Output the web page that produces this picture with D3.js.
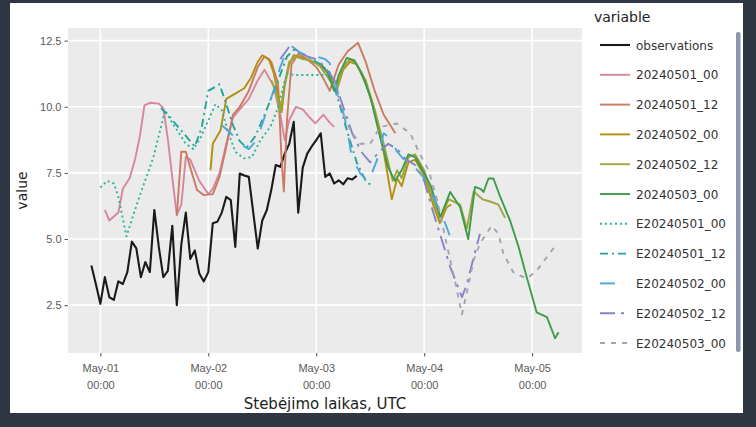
<!DOCTYPE html>
<html>
<head>
<meta charset="utf-8">
<script src="https://cdn.jsdelivr.net/npm/d3@7"></script>
<style>
  html, body { margin: 0; padding: 0; background: #2e3742; }
  svg { display: block; font-family: "DejaVu Sans", sans-serif; }
</style>
</head>
<body>
<div id="chart"></div>
<script>
// ---- data ----
const seriesNames = ["observations", "20240501_00", "20240501_12", "20240502_00", "20240502_12", "20240503_00",
    "E20240501_00", "E20240501_12", "E20240502_00", "E20240502_12", "E20240503_00"];

// hourly observations from 2024-04-30 22:00 UTC
const obsStart = "2024-04-30T22:00:00Z";
const obsValues = [4.0, 3.3, 2.55, 3.56, 2.8, 2.7, 3.4, 3.3, 3.75, 4.9, 4.65, 3.56, 4.13, 3.75, 6.1, 4.7,
    3.56, 3.8, 5.5, 2.5, 4.8, 6.0, 4.25, 4.57, 3.7, 3.4, 3.75, 5.6, 5.65, 6.0, 6.6, 6.47, 4.7, 7.48,
    7.4, 7.35, 6.0, 4.64, 5.7, 6.09, 6.85, 7.8, 7.73, 8.23, 8.6, 9.43, 6.0, 7.7, 8.23, 8.5, 8.74,
    9.0, 7.35, 7.48, 7.1, 7.22, 7.07, 7.3, 7.25, 7.39];

// forecasts: [hours after 2024-05-01 00:00 UTC, value]
const f20240501_00 = [[1,6.1],[2,5.7],[4,6.0],[5,6.9],[6.5,7.3],[7.7,8.0],[8.8,8.9],[9.8,10.05],[11,10.15],
    [13,10.12],[14,9.95],[15,8.8],[16,7.3],[17,5.9],[18,6.3],[19,8.1],[20,8.0],[22,7.2],[24,6.7],[25,6.9],
    [26.5,7.5],[28,8.6],[29.5,9.6],[31,9.9],[33,10.3],[35,11.0],[36.5,11.4],[38.5,10.8],[40,9.7],[41,8.74],
    [42,9.5],[43.5,10.0],[45,9.9],[46.5,9.6],[47.8,9.37],[49.6,9.7],[51,9.4],[52,9.24]];
const f20240501_12 = [[17,5.9],[18,8.3],[19,8.3],[20,7.7],[21.5,6.85],[23,6.66],[25,6.7],[26.5,7.35],[28,8.5],
    [29.5,9.7],[31,10.0],[33,10.6],[35,11.5],[36.5,11.9],[38,11.7],[39.5,10.9],[40.3,8.0],[40.8,6.8],[41.5,9.5],
    [42.5,11.6],[44,12.0],[46,11.8],[48,11.5],[49.5,11.1],[51,10.6],[53,11.6],[55,12.1],[57.3,12.42],[59,11.7],
    [61,10.6],[63,9.7],[65.6,9.0]];
const f20240502_00 = [[24.5,7.6],[25,8.6],[26.7,9.1],[28,10.3],[30,10.5],[32,10.7],[33.5,11.1],[35,11.7],[36,11.95],
    [37.5,11.8],[38.5,11.3],[39.5,10.5],[40.3,9.8],[41,10.8],[42,11.6],[43,11.95],[45,11.85],[47,11.7],[49,11.6],
    [51,11.2],[52.5,10.6],[54,11.4],[55.5,11.7],[57,11.6],[59,10.9],[61,9.8],[63,8.3],[64.8,6.5],[66,7.3],[67,7.0],
    [68.5,7.9],[70,8.0],[72,7.4],[74,6.3],[75.5,5.6],[77,6.2],[78,6.3]];
const f20240502_12 = [[38,11.0],[39,10.6],[40,9.8],[41,10.9],[42,11.7],[43.5,11.9],[45,11.8],[47,11.75],[49,11.5],
    [51,11.0],[52.5,10.7],[54,11.5],[55.5,11.8],[57,11.6],[59,11.0],[61,9.9],[63,8.6],[65,7.2],[66,7.6],[67,7.3],
    [68.5,8.1],[70,8.2],[72,7.6],[74,6.5],[75.5,5.8],[77.5,6.5],[80,6.3],[81.5,5.4],[83,6.8],[85,6.5],[87,6.4],
    [88.5,6.3],[90,5.8]];
const f20240503_00 = [[49,11.6],[50.5,11.3],[52,10.6],[53,11.2],[54.8,11.85],[56.5,11.75],[58,11.3],[60,10.4],
    [62,9.0],[64,7.7],[65.5,7.2],[67,7.6],[68.5,8.2],[70,8.1],[72,7.5],[73.5,7.0],[75.6,5.83],[77.8,6.78],[80,6.2],
    [81.8,5.0],[83.3,6.97],[84.5,6.9],[85.2,6.78],[86.3,7.29],[87.4,7.29],[88.9,6.6],[91.1,5.7],[93,4.7],[94.8,3.56],
    [97,2.23],[99.3,2.05],[101.1,1.25],[101.9,1.48]];
const e20240501_00 = [[0,6.95],[1.5,7.2],[3,7.1],[4,6.6],[5.8,5.1],[7.5,6.0],[9.2,6.85],[11.8,8.1],[13.3,9.12],
    [14.4,9.87],[15.6,9.5],[17.5,9.0],[19,8.6],[20.7,8.4],[22.2,8.8],[23.7,9.37],[25.6,10.1],[27,9.87],[28.5,9.0],
    [30,8.3],[31.9,8.05],[33.7,8.1],[35.6,8.74],[37.8,9.24],[39.3,9.87],[41.5,11.27],[43,11.2],[47.5,11.2],[51,11.2]];
const e20240501_12 = [[13.5,9.95],[15.5,9.6],[17.5,9.2],[19.5,8.8],[21,8.5],[22.5,9.2],[24,10.6],[26.5,10.85],
    [28,10.1],[29.5,9.3],[31,8.7],[32.5,8.45],[34.5,8.9],[37,9.9],[39.3,10.9],[41.5,11.9],[43,12.15],[45,12.0],
    [47,11.8],[49,11.6],[51,11.3],[53,10.2],[55,9.0],[57,7.9],[59,7.2],[60.5,7.0]];
const e20240502_00 = [[27,9.3],[29,9.0],[31,8.6],[33,8.4],[34.8,8.74],[36.5,9.6],[38.5,10.6],[40,11.5],[41.5,12.15],
    [42.5,12.3],[44,12.1],[46,11.9],[48,11.9],[50,11.8],[51,11.65],[53.3,10.25],[54.8,9.24],[55.9,8.1],[57.8,7.48],
    [59.6,7.16],[61.5,7.98],[63,9.0],[64.5,8.8],[66,8.3],[68,7.9],[70,7.7],[72,7.3],[74,6.6],[76,5.9],[77.8,5.08]];
const e20240502_12 = [[40,11.8],[42,12.27],[44,12.1],[46,11.9],[48,11.8],[50,11.5],[52,11.0],[54,10.0],[56,9.0],
    [58,8.3],[60,7.9],[62,8.3],[64,8.6],[66,8.4],[68,8.0],[70,7.8],[72,7.2],[73.5,6.3],[75.5,5.2],[77.8,3.94],
    [80.4,2.8],[81.5,3.3],[83,4.3],[84.4,5.2]];
const e20240503_00 = [[52,10.9],[54,9.76],[55.6,9.1],[57.8,8.6],[60,8.6],[62.2,9.24],[65.9,9.37],[68.9,9.0],
    [71,8.23],[73,7.6],[75,6.4],[77,4.8],[79,3.3],[80.4,2.15],[81.5,3.0],[83,4.2],[84.4,4.83],[87,5.5],[88.5,5.2],
    [89.6,4.45],[91.8,3.75],[94.8,3.5],[97,3.8],[100.7,4.64],[101.3,4.75]];

const dayTicks = ["2024-05-01", "2024-05-02", "2024-05-03", "2024-05-04", "2024-05-05"];
const yTicks = [2.5, 5.0, 7.5, 10.0, 12.5];

// ---- styles ----
const colors = ["#1a1a1a", "#d8869c", "#c97b63", "#b38f10", "#9ea53f", "#3f9a4b",
    "#2cb39f", "#1fa698", "#4ba9d8", "#8484c8", "#a4a4ae"];
const dashes = [null, null, null, null, null, null, "2,3", "8,4,2,4", "15,15", "15,6,3,6", "5,6"];

const W = 756, H = 427;
const panel = { left: 68, right: 582, top: 28, bottom: 353 };

const base = new Date(obsStart);
const day0 = new Date("2024-05-01T00:00:00Z");
const toDate = h => d3.utcMinute.offset(day0, Math.round(h * 60));

const series = [
    obsValues.map((v, i) => ({ t: d3.utcHour.offset(base, i), v })),
    ...[f20240501_00, f20240501_12, f20240502_00, f20240502_12, f20240503_00,
        e20240501_00, e20240501_12, e20240502_00, e20240502_12, e20240503_00]
        .map(arr => arr.map(([h, v]) => ({ t: toDate(h), v })))
];

const all = series.flat();
const tExt = d3.extent(all, d => d.t);
const vExt = d3.extent(all, d => d.v);
const tPad = (tExt[1] - tExt[0]) * 0.05;
const vPad = (vExt[1] - vExt[0]) * 0.05;

const x = d3.scaleUtc()
    .domain([new Date(+tExt[0] - tPad), new Date(+tExt[1] + tPad)])
    .range([panel.left, panel.right]);
const y = d3.scaleLinear()
    .domain([vExt[0] - vPad, vExt[1] + vPad])
    .range([panel.bottom, panel.top]);

const svg = d3.select("#chart").append("svg")
    .attr("width", W).attr("height", H);

// frame
svg.append("rect").attr("width", W).attr("height", H).attr("fill", "#2e3742");
svg.append("rect").attr("x", 10).attr("y", 3).attr("width", 733).attr("height", 410).attr("fill", "#ffffff");

// panel + grid
svg.append("rect")
    .attr("x", panel.left).attr("y", panel.top)
    .attr("width", panel.right - panel.left).attr("height", panel.bottom - panel.top)
    .attr("fill", "#ebebeb");

const grid = svg.append("g");
grid.selectAll(".gy").data(yTicks).enter().append("line")
    .attr("x1", panel.left).attr("x2", panel.right)
    .attr("y1", d => y(d)).attr("y2", d => y(d))
    .attr("stroke", "#fff").attr("stroke-width", 1.6);
grid.selectAll(".gx").data(dayTicks).enter().append("line")
    .attr("x1", d => x(new Date(d + "T00:00:00Z"))).attr("x2", d => x(new Date(d + "T00:00:00Z")))
    .attr("y1", panel.top).attr("y2", panel.bottom)
    .attr("stroke", "#fff").attr("stroke-width", 1.6);

// axes
const yAxis = svg.append("g")
    .attr("transform", `translate(${panel.left},0)`)
    .call(d3.axisLeft(y).tickValues(yTicks).tickFormat(d3.format(".1f")).tickSize(3.5).tickPadding(3));
yAxis.select(".domain").remove();
yAxis.selectAll("line").attr("stroke", "#555");
yAxis.selectAll("text").attr("fill", "#5a5a5a").style("font-size", "11px");

const xAxis = svg.append("g")
    .attr("transform", `translate(0,${panel.bottom})`)
    .call(d3.axisBottom(x).tickValues(dayTicks.map(d => new Date(d + "T00:00:00Z"))).tickSize(3.5).tickFormat(""));
xAxis.select(".domain").remove();
xAxis.selectAll("line").attr("stroke", "#555");
const fmtDay = d3.utcFormat("%b-%d"), fmtTime = d3.utcFormat("%H:%M");
xAxis.selectAll(".tick").each(function(d) {
    const t = d3.select(this).append("text")
        .attr("fill", "#5a5a5a").attr("text-anchor", "middle").style("font-size", "11px");
    t.append("tspan").attr("x", 0).attr("y", 19).text(fmtDay(d));
    t.append("tspan").attr("x", 0).attr("y", 36).text(fmtTime(d));
});

svg.append("text")
    .attr("x", (panel.left + panel.right) / 2).attr("y", 409)
    .attr("text-anchor", "middle").attr("fill", "#222")
    .style("font-size", "15px")
    .text("Stebėjimo laikas, UTC");

svg.append("text")
    .attr("transform", `translate(27,${(panel.top + panel.bottom) / 2}) rotate(-90)`)
    .attr("text-anchor", "middle").attr("fill", "#222")
    .style("font-size", "14px")
    .text("value");

// lines
svg.append("clipPath").attr("id", "clip").append("rect")
    .attr("x", panel.left).attr("y", panel.top)
    .attr("width", panel.right - panel.left).attr("height", panel.bottom - panel.top);

const line = d3.line().x(d => x(d.t)).y(d => y(d.v));

svg.append("g").attr("clip-path", "url(#clip)")
    .selectAll("path").data(series).enter().append("path")
    .attr("d", line)
    .attr("fill", "none")
    .attr("stroke", (d, i) => colors[i])
    .attr("stroke-width", (d, i) => i === 0 ? 2.1 : 1.9)
    .attr("stroke-dasharray", (d, i) => dashes[i])
    .attr("stroke-linejoin", "round");

// legend
const legend = svg.append("g");
legend.append("text").attr("x", 594).attr("y", 22)
    .attr("fill", "#222").style("font-size", "14px").text("variable");
const item = legend.selectAll(".item").data(seriesNames).enter().append("g")
    .attr("transform", (d, i) => `translate(600,${45 + i * 29.8})`);
item.append("line").attr("x1", 0).attr("x2", 30)
    .attr("stroke", (d, i) => colors[i])
    .attr("stroke-width", (d, i) => i === 0 ? 2.1 : 1.9)
    .attr("stroke-dasharray", (d, i) => dashes[i]);
item.append("text").attr("x", 36).attr("y", 4.5)
    .attr("fill", "#333").style("font-size", "12px").text(d => d);

// scrollbar
svg.append("rect").attr("x", 736).attr("y", 32).attr("width", 4.5).attr("height", 320)
    .attr("rx", 2).attr("fill", "#8c95ad");
</script>
</body>
</html>
